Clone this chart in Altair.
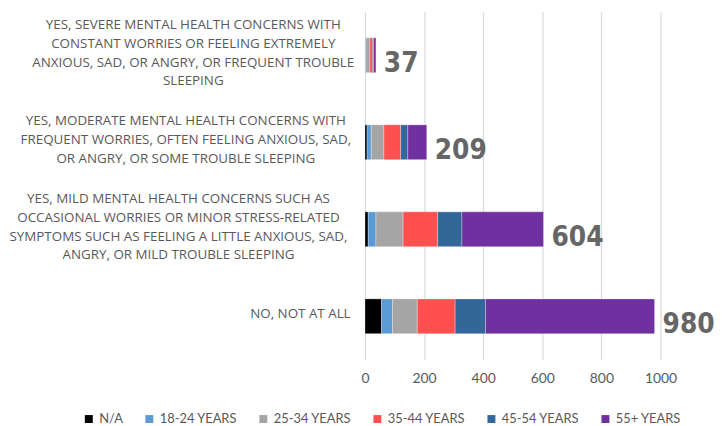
import altair as alt
import pandas as pd

categories = [
    "YES, SEVERE MENTAL HEALTH CONCERNS WITH\nCONSTANT WORRIES OR FEELING EXTREMELY\nANXIOUS, SAD, OR ANGRY, OR FREQUENT TROUBLE\nSLEEPING",
    "YES, MODERATE MENTAL HEALTH CONCERNS WITH\nFREQUENT WORRIES, OFTEN FEELING ANXIOUS, SAD,\nOR ANGRY, OR SOME TROUBLE SLEEPING",
    "YES, MILD MENTAL HEALTH CONCERNS SUCH AS\nOCCASIONAL WORRIES OR MINOR STRESS-RELATED\nSYMPTOMS SUCH AS FEELING A LITTLE ANXIOUS, SAD,\nANGRY, OR MILD TROUBLE SLEEPING",
    "NO, NOT AT ALL",
]
series = ["N/A", "18-24 YEARS", "25-34 YEARS", "35-44 YEARS", "45-54 YEARS", "55+ YEARS"]
colors = ["#000000", "#5B9BD5", "#A5A5A5", "#FF5050", "#336699", "#7030A0"]

na_vals = [1, 7, 11, 56]
y18_24 = [2, 14, 26, 37]
y25_34 = [14, 43, 92, 84]
y35_44 = [9, 57, 117, 128]
y45_54 = [3, 24, 82, 103]
y55 = [8, 64, 276, 572]
totals = [37, 209, 604, 980]

rows = []
for i, c in enumerate(categories):
    for j, (s, vals) in enumerate(zip(series, [na_vals, y18_24, y25_34, y35_44, y45_54, y55])):
        rows.append({"cat": c, "series": s, "value": vals[i], "ord": j})
df = pd.DataFrame(rows)
tot_df = pd.DataFrame({"cat": categories, "total": totals})

# one row per label line, each block centred on its own widest line, right-aligned to the axis
LINE_H = 19
CHAR_W = 7.45
HALF_BAND = 15.5
line_rows = []
for c in categories:
    parts = c.split("\n")
    n = len(parts)
    block_w = CHAR_W * max(len(p) for p in parts)
    for k, p in enumerate(parts):
        line_rows.append({"cat": c, "line": p,
                          "lx": -13 - block_w / 2,
                          "yo": HALF_BAND + (k - (n - 1) / 2) * LINE_H})
lines_df = pd.DataFrame(line_rows)

yenc = alt.Y("cat:N", sort=categories, axis=None,
             scale=alt.Scale(paddingInner=0.6, paddingOuter=0.3))

bars = alt.Chart(df).mark_bar(stroke="white", strokeWidth=0.3).encode(
    x=alt.X("value:Q", stack="zero",
            scale=alt.Scale(domain=[0, 1000], nice=False),
            axis=alt.Axis(values=[0, 200, 400, 600, 800, 1000], title=None, format="d",
                          grid=True, gridColor="#d9d9d9", gridWidth=1.2,
                          domain=False, ticks=False, labelFlush=False,
                          labelFont="Lato", labelFontSize=14, labelColor="#595959",
                          labelPadding=12)),
    y=yenc,
    color=alt.Color("series:N", sort=series,
                    scale=alt.Scale(domain=series, range=colors),
                    legend=alt.Legend(title=None, orient="none", direction="horizontal",
                                      legendX=-285, legendY=404,
                                      symbolType="square", symbolSize=64,
                                      symbolStrokeWidth=0,
                                      labelFont="Lato", labelFontSize=13,
                                      labelColor="#595959", columnPadding=20,
                                      labelOffset=4)),
    order=alt.Order("ord:Q"),
)

vals = alt.Chart(tot_df).mark_text(
    align="left", baseline="middle", dx=8, dy=9,
    font="DejaVu Sans Condensed", fontWeight="bold", fontSize=28, color="#666666"
).encode(x="total:Q", y=alt.Y("cat:N", sort=categories), text="total:Q")

labels = alt.Chart(lines_df).mark_text(
    align="center", baseline="middle",
    font="Open Sans", fontSize=13.5, color="#595959"
).encode(
    x=alt.X("lx:Q", scale=None),
    y=alt.Y("cat:N", sort=categories),
    yOffset=alt.YOffset("yo:Q", scale=None),
    text="line:N",
)

chart = alt.layer(bars, vals, labels).properties(
    width=298, height=351,
    autosize=alt.AutoSizeParams(type="none"),
    padding={"left": 360, "top": 2, "right": 58, "bottom": 64},
).configure_view(stroke=None)

chart.save("out.html", embed_options={"renderer": "svg", "actions": False})
